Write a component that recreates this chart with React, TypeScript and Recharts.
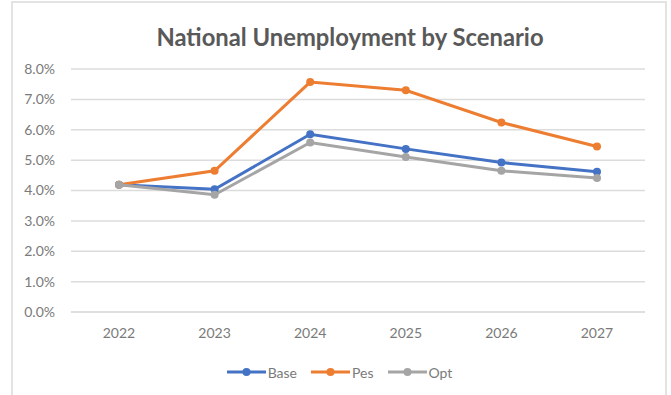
import React from 'react'
import { LineChart, Line, XAxis, YAxis, CartesianGrid, Legend } from 'recharts'

const years = ['2022', '2023', '2024', '2025', '2026', '2027']
const base = [4.19, 4.04, 5.85, 5.37, 4.92, 4.62]
const pes = [4.19, 4.65, 7.57, 7.3, 6.24, 5.45]
const opt = [4.19, 3.86, 5.58, 5.1, 4.65, 4.41]
const yTicks = [0, 1, 2, 3, 4, 5, 6, 7, 8]

const series = [
  { key: 'Base', values: base, color: '#4472C4' },
  { key: 'Pes', values: pes, color: '#ED7D31' },
  { key: 'Opt', values: opt, color: '#A5A5A5' },
]

const data = years.map((y, i) => ({
  year: y,
  Base: base[i],
  Pes: pes[i],
  Opt: opt[i],
}))

const FONT = 'Lato, "Open Sans", sans-serif'
const TXT = '#7a7a7a'

function LegendBox() {
  return (
    <div style={{
      display: 'flex', justifyContent: 'center', alignItems: 'center',
      height: 20, paddingLeft: 22, fontFamily: FONT, fontSize: 14, color: TXT,
    }}>
      {series.map(s => (
        <div key={s.key} style={{ display: 'flex', alignItems: 'center', marginRight: 14 }}>
          <svg width={39} height={12} style={{ marginRight: 2 }}>
            <line x1={0} y1={6} x2={39} y2={6} stroke={s.color} strokeWidth={3} />
            <circle cx={19.5} cy={6} r={4} fill={s.color} />
          </svg>
          <span>{s.key}</span>
        </div>
      ))}
    </div>
  )
}

export default function App() {
  return (
    <div style={{
      position: 'absolute', left: 0, top: 0, width: 671, height: 395,
      background: '#fff', overflow: 'hidden',
    }}>
      <div style={{
        position: 'absolute', left: 11, top: 1, width: 656, height: 420,
        border: '2px solid #e3e3e3', boxSizing: 'border-box',
      }} />
      <div style={{
        position: 'absolute', left: 100, top: 24, width: 500, lineHeight: '27px',
        textAlign: 'center', fontFamily: FONT, fontWeight: 700, fontSize: 23.8, color: '#595959',
      }}>
        National Unemployment by Scenario
      </div>
      <div style={{ position: 'absolute', left: 0, top: 0 }}>
        <LineChart width={671} height={395} data={data}
          margin={{ top: 69, right: 26, bottom: 53, left: 0 }}>
          <CartesianGrid vertical={false} stroke="#dcdcdc" strokeWidth={1.5} />
          <XAxis dataKey="year" height={30} tickSize={0} tickMargin={16}
            padding={{ left: 48, right: 48 }}
            axisLine={{ stroke: '#dcdcdc', strokeWidth: 1.5 }}
            tick={{ fontSize: 14, fill: TXT, fontFamily: FONT }} />
          <YAxis width={71} domain={[0, 8]} ticks={yTicks} tickSize={0} tickMargin={16}
            axisLine={false} interval={0}
            tickFormatter={(v: number) => `${v.toFixed(1)}%`}
            tick={{ fontSize: 14, fill: TXT, fontFamily: FONT }} />
          <Legend verticalAlign="middle" align="center" content={() => <LegendBox />}
            wrapperStyle={{ top: 362, left: 0, width: 671 }} />
          {series.map(s => (
            <Line key={s.key} type="linear" dataKey={s.key} stroke={s.color} strokeWidth={3}
              dot={{ r: 4, fill: s.color, stroke: s.color, strokeWidth: 0 }}
              activeDot={false} isAnimationActive={false} />
          ))}
        </LineChart>
      </div>
    </div>
  )
}
